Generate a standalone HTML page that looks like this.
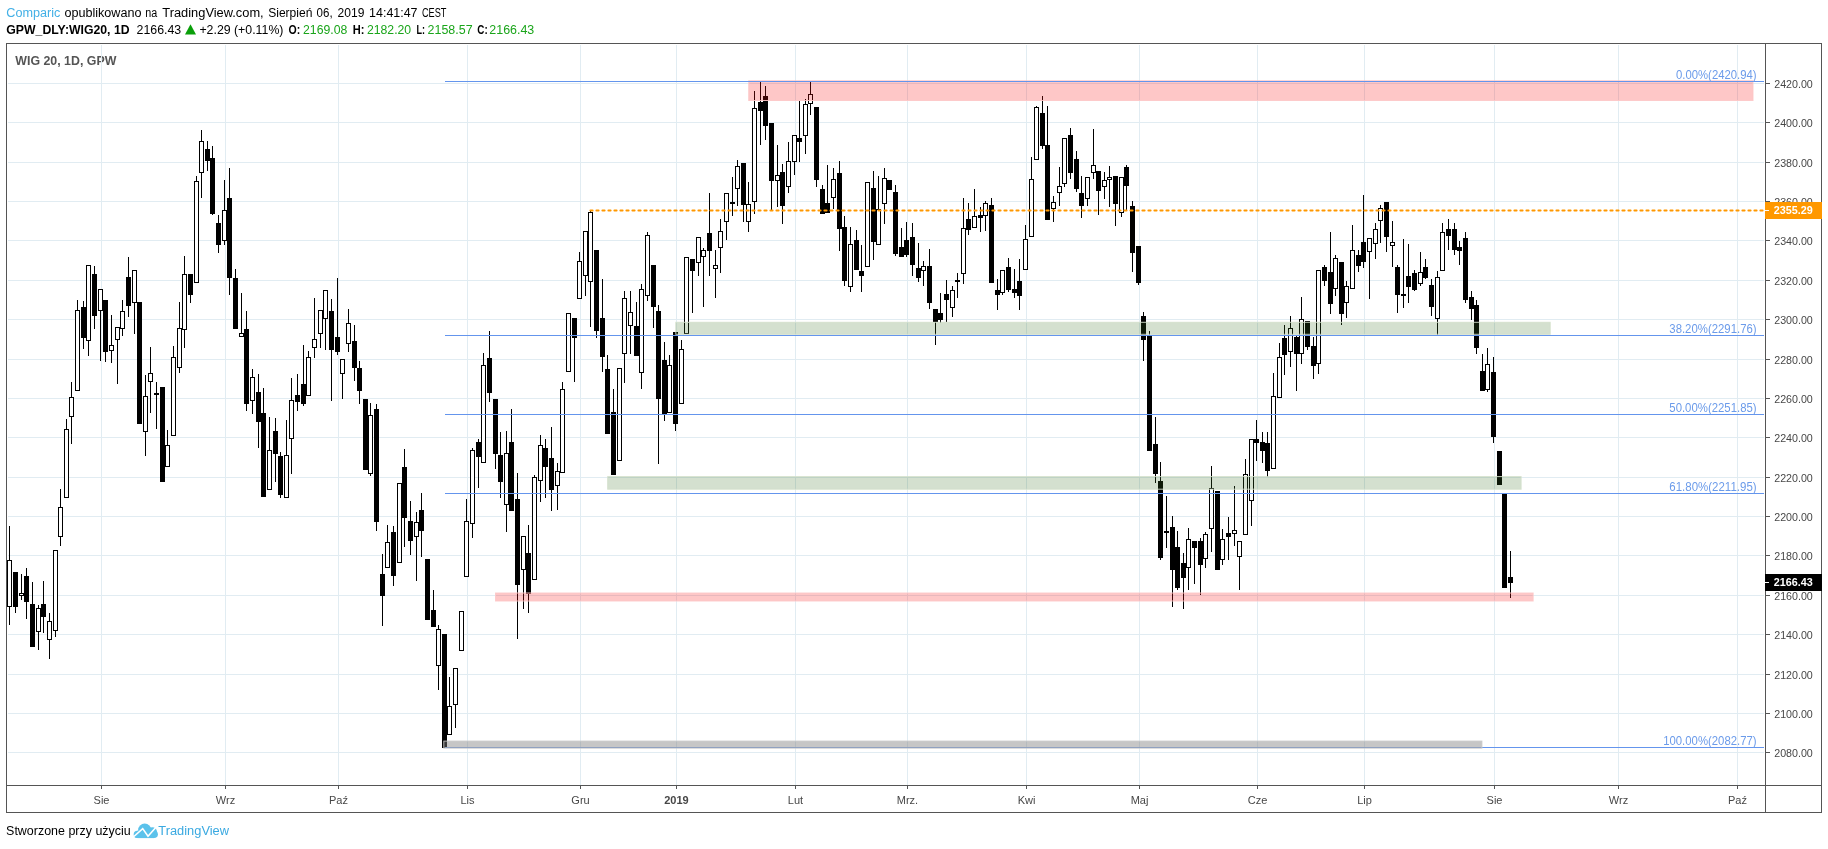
<!DOCTYPE html>
<html lang="pl"><head><meta charset="utf-8"><title>WIG20 chart</title>
<style>html,body{margin:0;padding:0;background:#fff;}body{width:1828px;height:849px;overflow:hidden;position:relative;}svg{position:absolute;left:0;top:0;display:block;will-change:transform;}text{font-family:"Liberation Sans", sans-serif;}.c{shape-rendering:crispEdges;}</style></head><body>
<svg width="1828" height="849" viewBox="0 0 1828 849">
<rect width="1828" height="849" fill="#fff"/>
<text x="15.3" y="64.8" font-size="12" font-weight="bold" fill="#555" textLength="101" lengthAdjust="spacingAndGlyphs">WIG 20, 1D, GPW</text>
<g class="c" fill="#e1ecf2">
<rect x="8" y="83" width="1756" height="1"/>
<rect x="8" y="122" width="1756" height="1"/>
<rect x="8" y="162" width="1756" height="1"/>
<rect x="8" y="201" width="1756" height="1"/>
<rect x="8" y="240" width="1756" height="1"/>
<rect x="8" y="280" width="1756" height="1"/>
<rect x="8" y="319" width="1756" height="1"/>
<rect x="8" y="359" width="1756" height="1"/>
<rect x="8" y="398" width="1756" height="1"/>
<rect x="8" y="437" width="1756" height="1"/>
<rect x="8" y="477" width="1756" height="1"/>
<rect x="8" y="516" width="1756" height="1"/>
<rect x="8" y="555" width="1756" height="1"/>
<rect x="8" y="595" width="1756" height="1"/>
<rect x="8" y="634" width="1756" height="1"/>
<rect x="8" y="674" width="1756" height="1"/>
<rect x="8" y="713" width="1756" height="1"/>
<rect x="8" y="752" width="1756" height="1"/>
<rect x="101" y="45" width="1" height="740"/>
<rect x="225" y="45" width="1" height="740"/>
<rect x="338" y="45" width="1" height="740"/>
<rect x="467" y="45" width="1" height="740"/>
<rect x="580" y="45" width="1" height="740"/>
<rect x="676" y="45" width="1" height="740"/>
<rect x="795" y="45" width="1" height="740"/>
<rect x="907" y="45" width="1" height="740"/>
<rect x="1026" y="45" width="1" height="740"/>
<rect x="1139" y="45" width="1" height="740"/>
<rect x="1257" y="45" width="1" height="740"/>
<rect x="1364" y="45" width="1" height="740"/>
<rect x="1494" y="45" width="1" height="740"/>
<rect x="1618" y="45" width="1" height="740"/>
<rect x="1737" y="45" width="1" height="740"/>
</g>
<g class="c">
<path fill="#000" d="M9,526h1v99h-1zM15,572h1v41h-1zM21,574h1v26h-1zM26,568h1v51h-1zM32,582h1v65h-1zM38,605h1v45h-1zM43,581h1v52h-1zM49,613h1v46h-1zM55,550h1v87h-1zM60,489h1v57h-1zM66,419h1v79h-1zM71,382h1v62h-1zM77,300h1v91h-1zM83,301h1v48h-1zM88,265h1v91h-1zM94,266h1v63h-1zM100,289h1v72h-1zM105,300h1v62h-1zM111,315h1v48h-1zM117,327h1v57h-1zM122,300h1v36h-1zM128,257h1v60h-1zM134,270h1v64h-1zM139,302h1v122h-1zM145,375h1v81h-1zM150,347h1v66h-1zM156,382h1v47h-1zM162,387h1v95h-1zM167,430h1v37h-1zM173,346h1v90h-1zM179,302h1v71h-1zM184,256h1v92h-1zM190,274h1v29h-1zM196,176h1v107h-1zM201,130h1v68h-1zM207,141h1v30h-1zM212,146h1v69h-1zM218,215h1v38h-1zM224,180h1v65h-1zM229,168h1v127h-1zM235,269h1v60h-1zM241,293h1v44h-1zM246,311h1v100h-1zM252,369h1v45h-1zM258,374h1v74h-1zM263,388h1v109h-1zM269,417h1v73h-1zM275,418h1v64h-1zM280,452h1v46h-1zM286,420h1v78h-1zM291,378h1v96h-1zM297,374h1v37h-1zM303,345h1v61h-1zM308,351h1v45h-1zM314,298h1v60h-1zM320,310h1v38h-1zM325,290h1v60h-1zM331,299h1v102h-1zM337,278h1v77h-1zM342,359h1v40h-1zM348,309h1v43h-1zM354,325h1v56h-1zM359,361h1v43h-1zM365,399h1v71h-1zM370,403h1v73h-1zM376,404h1v127h-1zM382,554h1v72h-1zM387,525h1v43h-1zM393,526h1v60h-1zM399,483h1v80h-1zM404,449h1v98h-1zM410,501h1v54h-1zM416,512h1v69h-1zM421,493h1v64h-1zM427,559h1v61h-1zM433,590h1v37h-1zM438,625h1v65h-1zM444,634h1v114h-1zM449,677h1v58h-1zM455,668h1v60h-1zM461,611h1v40h-1zM466,499h1v78h-1zM472,448h1v90h-1zM478,439h1v49h-1zM483,353h1v110h-1zM489,331h1v71h-1zM495,399h1v70h-1zM500,432h1v66h-1zM506,431h1v101h-1zM511,409h1v102h-1zM517,473h1v166h-1zM523,536h1v73h-1zM528,525h1v88h-1zM534,475h1v105h-1zM540,435h1v67h-1zM545,439h1v59h-1zM551,427h1v84h-1zM557,463h1v47h-1zM562,382h1v91h-1zM568,313h1v59h-1zM574,318h1v64h-1zM579,252h1v47h-1zM585,231h1v65h-1zM590,210h1v117h-1zM596,250h1v88h-1zM602,279h1v93h-1zM607,355h1v79h-1zM613,389h1v86h-1zM619,368h1v93h-1zM624,291h1v92h-1zM630,291h1v63h-1zM636,302h1v54h-1zM641,284h1v105h-1zM647,232h1v69h-1zM653,265h1v63h-1zM658,305h1v159h-1zM664,342h1v79h-1zM669,355h1v58h-1zM675,332h1v99h-1zM681,340h1v64h-1zM686,257h1v77h-1zM692,259h1v54h-1zM698,237h1v39h-1zM703,248h1v59h-1zM709,193h1v83h-1zM715,250h1v48h-1zM720,219h1v54h-1zM726,193h1v47h-1zM732,177h1v39h-1zM737,160h1v46h-1zM743,163h1v59h-1zM748,182h1v50h-1zM754,91h1v123h-1zM760,81h1v64h-1zM765,86h1v54h-1zM771,123h1v87h-1zM777,145h1v62h-1zM782,164h1v60h-1zM788,142h1v51h-1zM794,135h1v40h-1zM799,101h1v61h-1zM805,99h1v55h-1zM810,81h1v34h-1zM816,107h1v80h-1zM822,185h1v29h-1zM827,165h1v48h-1zM833,168h1v41h-1zM839,161h1v90h-1zM844,216h1v70h-1zM850,227h1v65h-1zM856,230h1v40h-1zM861,245h1v47h-1zM867,182h1v85h-1zM873,171h1v89h-1zM878,176h1v69h-1zM884,168h1v56h-1zM889,180h1v10h-1zM895,185h1v71h-1zM901,228h1v29h-1zM906,222h1v35h-1zM912,223h1v53h-1zM918,243h1v39h-1zM923,261h1v25h-1zM929,249h1v60h-1zM935,309h1v36h-1zM940,293h1v30h-1zM946,280h1v42h-1zM952,286h1v31h-1zM957,273h1v25h-1zM963,198h1v86h-1zM968,203h1v32h-1zM974,189h1v39h-1zM980,207h1v25h-1zM985,201h1v30h-1zM991,198h1v85h-1zM997,279h1v31h-1zM1002,270h1v25h-1zM1008,258h1v34h-1zM1014,269h1v29h-1zM1019,259h1v51h-1zM1025,225h1v45h-1zM1031,157h1v80h-1zM1036,106h1v54h-1zM1042,96h1v53h-1zM1047,106h1v114h-1zM1053,196h1v26h-1zM1059,167h1v39h-1zM1064,138h1v49h-1zM1070,128h1v51h-1zM1076,151h1v41h-1zM1081,176h1v42h-1zM1087,177h1v29h-1zM1093,129h1v50h-1zM1098,171h1v44h-1zM1104,172h1v27h-1zM1109,166h1v41h-1zM1115,176h1v50h-1zM1121,177h1v40h-1zM1126,165h1v46h-1zM1132,201h1v71h-1zM1138,246h1v39h-1zM1143,312h1v49h-1zM1149,331h1v120h-1zM1155,417h1v66h-1zM1160,462h1v98h-1zM1166,496h1v52h-1zM1172,516h1v91h-1zM1177,531h1v59h-1zM1183,553h1v56h-1zM1188,528h1v62h-1zM1194,541h1v43h-1zM1200,538h1v57h-1zM1205,532h1v36h-1zM1211,466h1v86h-1zM1217,491h1v79h-1zM1222,529h1v36h-1zM1228,517h1v43h-1zM1234,486h1v60h-1zM1239,541h1v49h-1zM1245,459h1v76h-1zM1251,439h1v87h-1zM1256,420h1v41h-1zM1262,432h1v31h-1zM1267,432h1v45h-1zM1273,373h1v96h-1zM1279,343h1v55h-1zM1284,325h1v50h-1zM1290,316h1v51h-1zM1296,335h1v56h-1zM1301,297h1v67h-1zM1307,321h1v29h-1zM1313,337h1v42h-1zM1318,270h1v104h-1zM1324,265h1v21h-1zM1330,232h1v82h-1zM1335,255h1v41h-1zM1341,262h1v63h-1zM1346,281h1v37h-1zM1352,225h1v64h-1zM1358,250h1v22h-1zM1363,195h1v73h-1zM1369,238h1v61h-1zM1375,223h1v36h-1zM1380,205h1v38h-1zM1386,202h1v50h-1zM1392,221h1v46h-1zM1397,265h1v48h-1zM1403,239h1v69h-1zM1408,244h1v59h-1zM1414,270h1v21h-1zM1420,252h1v34h-1zM1425,259h1v20h-1zM1431,279h1v37h-1zM1437,271h1v64h-1zM1442,223h1v48h-1zM1448,219h1v31h-1zM1454,223h1v32h-1zM1459,241h1v24h-1zM1465,232h1v71h-1zM1471,291h1v29h-1zM1476,300h1v54h-1zM1482,354h1v37h-1zM1487,348h1v44h-1zM1493,357h1v86h-1zM1499,451h1v34h-1zM1504,494h1v94h-1zM1510,551h1v47h-1z"/>
<path fill="#000" d="M7,560h5v47h-5zM13,572h5v35h-5zM19,593h5v3h-5zM24,576h5v26h-5zM30,604h5v43h-5zM36,608h5v24h-5zM41,604h5v13h-5zM47,621h5v19h-5zM53,550h5v81h-5zM58,507h5v30h-5zM64,429h5v69h-5zM69,397h5v20h-5zM75,310h5v81h-5zM81,307h5v31h-5zM86,265h5v76h-5zM92,274h5v42h-5zM98,289h5v22h-5zM103,300h5v52h-5zM109,345h5v6h-5zM115,327h5v13h-5zM120,311h5v18h-5zM126,277h5v29h-5zM132,270h5v33h-5zM137,302h5v122h-5zM143,396h5v36h-5zM148,373h5v9h-5zM154,393h5v2h-5zM160,387h5v95h-5zM165,445h5v22h-5zM171,357h5v79h-5zM177,328h5v40h-5zM182,274h5v56h-5zM188,274h5v21h-5zM194,181h5v102h-5zM199,141h5v32h-5zM205,149h5v12h-5zM210,158h5v56h-5zM216,223h5v22h-5zM222,210h5v31h-5zM227,198h5v80h-5zM233,278h5v51h-5zM239,333h5v4h-5zM244,329h5v75h-5zM250,377h5v24h-5zM256,392h5v30h-5zM261,413h5v84h-5zM267,450h5v40h-5zM273,431h5v23h-5zM278,456h5v39h-5zM284,455h5v43h-5zM289,400h5v39h-5zM295,395h5v7h-5zM301,384h5v20h-5zM306,357h5v39h-5zM312,339h5v9h-5zM318,310h5v24h-5zM323,290h5v29h-5zM329,311h5v39h-5zM335,337h5v15h-5zM340,359h5v15h-5zM346,323h5v21h-5zM352,341h5v27h-5zM357,368h5v23h-5zM363,399h5v71h-5zM368,415h5v59h-5zM374,409h5v113h-5zM380,574h5v22h-5zM385,542h5v26h-5zM391,532h5v44h-5zM397,483h5v80h-5zM402,467h5v51h-5zM408,521h5v20h-5zM414,522h5v15h-5zM419,510h5v21h-5zM425,559h5v61h-5zM431,610h5v17h-5zM436,629h5v37h-5zM442,634h5v114h-5zM447,706h5v29h-5zM453,668h5v37h-5zM459,611h5v40h-5zM464,521h5v56h-5zM470,450h5v74h-5zM476,442h5v15h-5zM481,365h5v98h-5zM487,358h5v35h-5zM493,399h5v55h-5zM498,455h5v27h-5zM504,453h5v52h-5zM509,442h5v69h-5zM515,499h5v86h-5zM521,536h5v34h-5zM526,553h5v41h-5zM532,477h5v103h-5zM538,445h5v36h-5zM543,448h5v19h-5zM549,458h5v32h-5zM555,471h5v15h-5zM560,389h5v84h-5zM566,313h5v59h-5zM572,318h5v20h-5zM577,261h5v38h-5zM583,231h5v45h-5zM588,212h5v70h-5zM594,250h5v81h-5zM600,318h5v39h-5zM605,369h5v65h-5zM611,412h5v63h-5zM617,368h5v93h-5zM622,298h5v56h-5zM628,312h5v14h-5zM634,326h5v30h-5zM639,289h5v84h-5zM645,235h5v61h-5zM651,265h5v42h-5zM656,311h5v88h-5zM662,360h5v55h-5zM667,365h5v48h-5zM673,332h5v92h-5zM679,349h5v55h-5zM684,257h5v77h-5zM690,259h5v12h-5zM696,237h5v26h-5zM701,250h5v7h-5zM707,233h5v18h-5zM713,265h5v4h-5zM718,231h5v17h-5zM724,193h5v29h-5zM730,202h5v2h-5zM735,166h5v23h-5zM741,163h5v42h-5zM746,204h5v18h-5zM752,108h5v94h-5zM758,102h5v9h-5zM763,96h5v30h-5zM769,123h5v58h-5zM775,175h5v6h-5zM780,172h5v34h-5zM786,161h5v26h-5zM792,135h5v27h-5zM797,138h5v4h-5zM803,104h5v32h-5zM808,94h5v10h-5zM814,107h5v73h-5zM820,189h5v25h-5zM825,203h5v10h-5zM831,179h5v19h-5zM837,173h5v56h-5zM842,227h5v54h-5zM848,244h5v43h-5zM854,240h5v30h-5zM859,271h5v5h-5zM865,182h5v85h-5zM871,188h5v54h-5zM876,209h5v36h-5zM882,178h5v26h-5zM887,180h5v10h-5zM893,192h5v62h-5zM899,247h5v10h-5zM904,240h5v15h-5zM910,237h5v28h-5zM916,268h5v10h-5zM921,266h5v5h-5zM927,266h5v37h-5zM933,309h5v13h-5zM938,313h5v7h-5zM944,294h5v6h-5zM950,290h5v18h-5zM955,280h5v2h-5zM961,228h5v46h-5zM966,219h5v11h-5zM972,216h5v12h-5zM978,215h5v3h-5zM983,203h5v13h-5zM989,205h5v78h-5zM995,290h5v5h-5zM1000,270h5v23h-5zM1006,267h5v23h-5zM1012,289h5v4h-5zM1017,281h5v15h-5zM1023,239h5v31h-5zM1029,179h5v58h-5zM1034,107h5v53h-5zM1040,113h5v33h-5zM1045,145h5v75h-5zM1051,202h5v7h-5zM1057,186h5v7h-5zM1062,138h5v46h-5zM1068,135h5v38h-5zM1074,159h5v30h-5zM1079,193h5v13h-5zM1085,177h5v22h-5zM1091,165h5v8h-5zM1096,171h5v20h-5zM1102,180h5v7h-5zM1107,177h5v3h-5zM1113,176h5v28h-5zM1119,177h5v36h-5zM1124,167h5v19h-5zM1130,206h5v47h-5zM1136,246h5v37h-5zM1141,316h5v24h-5zM1147,336h5v115h-5zM1153,444h5v30h-5zM1158,481h5v77h-5zM1164,531h5v2h-5zM1170,527h5v43h-5zM1175,547h5v41h-5zM1181,563h5v15h-5zM1186,539h5v29h-5zM1192,541h5v7h-5zM1198,541h5v24h-5zM1203,534h5v25h-5zM1209,488h5v41h-5zM1215,491h5v79h-5zM1220,539h5v21h-5zM1226,533h5v4h-5zM1232,530h5v4h-5zM1237,541h5v16h-5zM1243,474h5v61h-5zM1249,439h5v62h-5zM1254,439h5v4h-5zM1260,442h5v9h-5zM1265,443h5v28h-5zM1271,396h5v73h-5zM1277,357h5v41h-5zM1282,338h5v17h-5zM1288,328h5v24h-5zM1294,337h5v17h-5zM1299,319h5v35h-5zM1305,321h5v26h-5zM1311,346h5v20h-5zM1316,270h5v94h-5zM1322,267h5v14h-5zM1328,272h5v32h-5zM1333,258h5v31h-5zM1339,262h5v52h-5zM1344,286h5v17h-5zM1350,250h5v39h-5zM1356,255h5v11h-5zM1361,242h5v20h-5zM1367,238h5v14h-5zM1373,229h5v15h-5zM1378,208h5v13h-5zM1384,202h5v35h-5zM1390,242h5v4h-5zM1395,267h5v28h-5zM1401,294h5v2h-5zM1406,276h5v11h-5zM1412,273h5v17h-5zM1418,272h5v12h-5zM1423,267h5v11h-5zM1429,285h5v22h-5zM1435,277h5v42h-5zM1440,232h5v39h-5zM1446,229h5v7h-5zM1452,229h5v21h-5zM1457,247h5v4h-5zM1463,238h5v62h-5zM1469,297h5v12h-5zM1474,305h5v43h-5zM1480,371h5v20h-5zM1485,364h5v26h-5zM1491,372h5v65h-5zM1497,451h5v34h-5zM1502,494h5v94h-5zM1508,577h5v6h-5z"/>
<path fill="#fff" d="M8,561h3v45h-3zM20,594h3v1h-3zM37,609h3v22h-3zM48,622h3v17h-3zM54,551h3v79h-3zM59,508h3v28h-3zM65,430h3v67h-3zM70,398h3v18h-3zM76,311h3v79h-3zM87,266h3v74h-3zM99,290h3v20h-3zM110,346h3v4h-3zM116,328h3v11h-3zM121,312h3v16h-3zM133,271h3v31h-3zM144,397h3v34h-3zM149,374h3v7h-3zM166,446h3v20h-3zM172,358h3v77h-3zM178,329h3v38h-3zM183,275h3v54h-3zM195,182h3v100h-3zM200,142h3v30h-3zM223,211h3v29h-3zM240,334h3v2h-3zM251,378h3v22h-3zM268,451h3v38h-3zM285,456h3v41h-3zM290,401h3v37h-3zM307,358h3v37h-3zM313,340h3v7h-3zM319,311h3v22h-3zM324,291h3v27h-3zM341,360h3v13h-3zM347,324h3v19h-3zM369,416h3v57h-3zM386,543h3v24h-3zM398,484h3v78h-3zM415,523h3v13h-3zM437,630h3v35h-3zM448,707h3v27h-3zM454,669h3v35h-3zM460,612h3v38h-3zM465,522h3v54h-3zM471,451h3v72h-3zM482,366h3v96h-3zM505,454h3v50h-3zM522,537h3v32h-3zM533,478h3v101h-3zM539,446h3v34h-3zM556,472h3v13h-3zM561,390h3v82h-3zM567,314h3v57h-3zM578,262h3v36h-3zM584,232h3v43h-3zM589,213h3v68h-3zM618,369h3v91h-3zM623,299h3v54h-3zM629,313h3v12h-3zM640,290h3v82h-3zM646,236h3v59h-3zM668,366h3v46h-3zM680,350h3v53h-3zM685,258h3v75h-3zM697,238h3v24h-3zM702,251h3v5h-3zM714,266h3v2h-3zM719,232h3v15h-3zM725,194h3v27h-3zM736,167h3v21h-3zM747,205h3v16h-3zM753,109h3v92h-3zM776,176h3v4h-3zM787,162h3v24h-3zM793,136h3v25h-3zM804,105h3v30h-3zM809,95h3v8h-3zM832,180h3v17h-3zM849,245h3v41h-3zM866,183h3v83h-3zM877,210h3v34h-3zM883,179h3v24h-3zM922,267h3v3h-3zM951,291h3v16h-3zM962,229h3v44h-3zM973,217h3v10h-3zM984,204h3v11h-3zM1001,271h3v21h-3zM1024,240h3v29h-3zM1030,180h3v56h-3zM1035,108h3v51h-3zM1052,203h3v5h-3zM1058,187h3v5h-3zM1063,139h3v44h-3zM1086,178h3v20h-3zM1092,166h3v6h-3zM1103,181h3v5h-3zM1108,178h3v1h-3zM1120,178h3v34h-3zM1187,540h3v27h-3zM1204,535h3v23h-3zM1210,489h3v39h-3zM1221,540h3v19h-3zM1233,531h3v2h-3zM1238,542h3v14h-3zM1244,475h3v59h-3zM1250,440h3v60h-3zM1272,397h3v71h-3zM1278,358h3v39h-3zM1289,329h3v22h-3zM1300,320h3v33h-3zM1317,271h3v92h-3zM1334,259h3v29h-3zM1345,287h3v15h-3zM1351,251h3v37h-3zM1368,239h3v12h-3zM1374,230h3v13h-3zM1379,209h3v11h-3zM1391,243h3v2h-3zM1419,273h3v10h-3zM1436,278h3v40h-3zM1441,233h3v37h-3zM1486,365h3v24h-3z"/>
</g>
<g class="c">
</g><g>
<rect x="748.75" y="80.80" width="1004.25" height="19.70" fill="rgba(250,20,20,0.24)" stroke="#fdc6c6" stroke-opacity="0.9" stroke-width="1"/>
<rect x="675.80" y="322.30" width="874.40" height="12.00" fill="rgba(59,114,36,0.22)" stroke="#d4e0cb" stroke-opacity="0.9" stroke-width="1"/>
<rect x="607.70" y="476.60" width="913.40" height="12.60" fill="rgba(59,114,36,0.22)" stroke="#d4e0cb" stroke-opacity="0.9" stroke-width="1"/>
<rect x="495.55" y="593.00" width="1037.55" height="8.00" fill="rgba(250,20,20,0.24)" stroke="#fdc6c6" stroke-opacity="0.9" stroke-width="1"/>
</g><g class="c">
<rect x="445" y="81" width="1319" height="1" fill="#6495ed"/>
<rect x="445" y="335" width="1319" height="1" fill="#6495ed"/>
<rect x="445" y="414" width="1319" height="1" fill="#6495ed"/>
<rect x="445" y="493" width="1319" height="1" fill="#6495ed"/>
<rect x="445" y="747" width="1319" height="1" fill="#6495ed"/>
</g>
<rect x="443.80" y="741.10" width="1038.10" height="7.00" fill="rgba(128,128,128,0.45)" stroke="#c6c6c6" stroke-opacity="0.9" stroke-width="1"/>
<line x1="590.4" y1="210.5" x2="1764" y2="210.5" stroke="#ff9800" stroke-width="2" stroke-dasharray="2.2 3.8" stroke-linecap="round"/>
<text x="1676.0" y="79.1" font-size="12.8" fill="#6b9bea" textLength="80.6" lengthAdjust="spacingAndGlyphs">0.00%(2420.94)</text>
<text x="1669.3" y="333.1" font-size="12.8" fill="#6b9bea" textLength="87.3" lengthAdjust="spacingAndGlyphs">38.20%(2291.76)</text>
<text x="1669.3" y="412.1" font-size="12.8" fill="#6b9bea" textLength="87.3" lengthAdjust="spacingAndGlyphs">50.00%(2251.85)</text>
<text x="1669.3" y="491.1" font-size="12.8" fill="#6b9bea" textLength="87.3" lengthAdjust="spacingAndGlyphs">61.80%(2211.95)</text>
<text x="1663.2" y="745.1" font-size="12.8" fill="#6b9bea" textLength="93.4" lengthAdjust="spacingAndGlyphs">100.00%(2082.77)</text>
<g class="c" fill="#555555">
<rect x="6" y="43" width="1816" height="1"/>
<rect x="6" y="812" width="1816" height="1"/>
<rect x="6" y="43" width="1" height="770"/>
<rect x="1821" y="43" width="1" height="770"/>
<rect x="1765" y="43" width="1" height="770"/>
<rect x="6" y="785" width="1816" height="1"/>
<rect x="1766" y="83" width="4" height="1"/>
<rect x="1766" y="122" width="4" height="1"/>
<rect x="1766" y="162" width="4" height="1"/>
<rect x="1766" y="201" width="4" height="1"/>
<rect x="1766" y="240" width="4" height="1"/>
<rect x="1766" y="280" width="4" height="1"/>
<rect x="1766" y="319" width="4" height="1"/>
<rect x="1766" y="359" width="4" height="1"/>
<rect x="1766" y="398" width="4" height="1"/>
<rect x="1766" y="437" width="4" height="1"/>
<rect x="1766" y="477" width="4" height="1"/>
<rect x="1766" y="516" width="4" height="1"/>
<rect x="1766" y="555" width="4" height="1"/>
<rect x="1766" y="595" width="4" height="1"/>
<rect x="1766" y="634" width="4" height="1"/>
<rect x="1766" y="674" width="4" height="1"/>
<rect x="1766" y="713" width="4" height="1"/>
<rect x="1766" y="752" width="4" height="1"/>
<rect x="101" y="786" width="1" height="3"/>
<rect x="225" y="786" width="1" height="3"/>
<rect x="338" y="786" width="1" height="3"/>
<rect x="467" y="786" width="1" height="3"/>
<rect x="580" y="786" width="1" height="3"/>
<rect x="676" y="786" width="1" height="3"/>
<rect x="795" y="786" width="1" height="3"/>
<rect x="907" y="786" width="1" height="3"/>
<rect x="1026" y="786" width="1" height="3"/>
<rect x="1139" y="786" width="1" height="3"/>
<rect x="1257" y="786" width="1" height="3"/>
<rect x="1364" y="786" width="1" height="3"/>
<rect x="1494" y="786" width="1" height="3"/>
<rect x="1618" y="786" width="1" height="3"/>
<rect x="1737" y="786" width="1" height="3"/>
</g>
<text x="1774.2" y="87.8" font-size="11.5" fill="#474747" textLength="38.6" lengthAdjust="spacingAndGlyphs">2420.00</text>
<text x="1774.2" y="126.8" font-size="11.5" fill="#474747" textLength="38.6" lengthAdjust="spacingAndGlyphs">2400.00</text>
<text x="1774.2" y="166.8" font-size="11.5" fill="#474747" textLength="38.6" lengthAdjust="spacingAndGlyphs">2380.00</text>
<text x="1774.2" y="205.8" font-size="11.5" fill="#474747" textLength="38.6" lengthAdjust="spacingAndGlyphs">2360.00</text>
<text x="1774.2" y="244.8" font-size="11.5" fill="#474747" textLength="38.6" lengthAdjust="spacingAndGlyphs">2340.00</text>
<text x="1774.2" y="284.8" font-size="11.5" fill="#474747" textLength="38.6" lengthAdjust="spacingAndGlyphs">2320.00</text>
<text x="1774.2" y="323.8" font-size="11.5" fill="#474747" textLength="38.6" lengthAdjust="spacingAndGlyphs">2300.00</text>
<text x="1774.2" y="363.8" font-size="11.5" fill="#474747" textLength="38.6" lengthAdjust="spacingAndGlyphs">2280.00</text>
<text x="1774.2" y="402.8" font-size="11.5" fill="#474747" textLength="38.6" lengthAdjust="spacingAndGlyphs">2260.00</text>
<text x="1774.2" y="441.8" font-size="11.5" fill="#474747" textLength="38.6" lengthAdjust="spacingAndGlyphs">2240.00</text>
<text x="1774.2" y="481.8" font-size="11.5" fill="#474747" textLength="38.6" lengthAdjust="spacingAndGlyphs">2220.00</text>
<text x="1774.2" y="520.8" font-size="11.5" fill="#474747" textLength="38.6" lengthAdjust="spacingAndGlyphs">2200.00</text>
<text x="1774.2" y="559.8" font-size="11.5" fill="#474747" textLength="38.6" lengthAdjust="spacingAndGlyphs">2180.00</text>
<text x="1774.2" y="599.8" font-size="11.5" fill="#474747" textLength="38.6" lengthAdjust="spacingAndGlyphs">2160.00</text>
<text x="1774.2" y="638.8" font-size="11.5" fill="#474747" textLength="38.6" lengthAdjust="spacingAndGlyphs">2140.00</text>
<text x="1774.2" y="678.8" font-size="11.5" fill="#474747" textLength="38.6" lengthAdjust="spacingAndGlyphs">2120.00</text>
<text x="1774.2" y="717.8" font-size="11.5" fill="#474747" textLength="38.6" lengthAdjust="spacingAndGlyphs">2100.00</text>
<text x="1774.2" y="756.8" font-size="11.5" fill="#474747" textLength="38.6" lengthAdjust="spacingAndGlyphs">2080.00</text>
<text x="101.5" y="804" font-size="11" fill="#474747" text-anchor="middle">Sie</text>
<text x="225.5" y="804" font-size="11" fill="#474747" text-anchor="middle">Wrz</text>
<text x="338.5" y="804" font-size="11" fill="#474747" text-anchor="middle">Paź</text>
<text x="467.5" y="804" font-size="11" fill="#474747" text-anchor="middle">Lis</text>
<text x="580.5" y="804" font-size="11" fill="#474747" text-anchor="middle">Gru</text>
<text x="676.5" y="804" font-size="11" font-weight="bold" fill="#474747" text-anchor="middle">2019</text>
<text x="795.5" y="804" font-size="11" fill="#474747" text-anchor="middle">Lut</text>
<text x="907.5" y="804" font-size="11" fill="#474747" text-anchor="middle">Mrz.</text>
<text x="1026.5" y="804" font-size="11" fill="#474747" text-anchor="middle">Kwi</text>
<text x="1139.5" y="804" font-size="11" fill="#474747" text-anchor="middle">Maj</text>
<text x="1257.5" y="804" font-size="11" fill="#474747" text-anchor="middle">Cze</text>
<text x="1364.5" y="804" font-size="11" fill="#474747" text-anchor="middle">Lip</text>
<text x="1494.5" y="804" font-size="11" fill="#474747" text-anchor="middle">Sie</text>
<text x="1618.5" y="804" font-size="11" fill="#474747" text-anchor="middle">Wrz</text>
<text x="1737.5" y="804" font-size="11" fill="#474747" text-anchor="middle">Paź</text>
<g class="c">
<rect x="1765" y="202" width="57" height="17" fill="#ff9800"/>
<rect x="1765" y="210" width="4" height="1" fill="#fff"/>
<rect x="1765" y="574" width="57" height="17" fill="#000"/>
<rect x="1765" y="582" width="4" height="1" fill="#fff"/>
</g>
<text x="1773.7" y="213.8" font-size="11.5" font-weight="bold" fill="#fff" textLength="39" lengthAdjust="spacingAndGlyphs">2355.29</text>
<text x="1773.7" y="585.8" font-size="11.5" font-weight="bold" fill="#fff" textLength="39" lengthAdjust="spacingAndGlyphs">2166.43</text>
<text x="6.3" y="17.0" font-size="12" fill="#43b0e6" textLength="54.1" lengthAdjust="spacingAndGlyphs">Comparic</text>
<text x="64.4" y="17.0" font-size="12" fill="#000" textLength="77.1" lengthAdjust="spacingAndGlyphs">opublikowano</text>
<text x="145.3" y="17.0" font-size="12" fill="#000" textLength="12.0" lengthAdjust="spacingAndGlyphs">na</text>
<text x="162.3" y="17.0" font-size="12" fill="#000" textLength="101.4" lengthAdjust="spacingAndGlyphs">TradingView.com,</text>
<text x="268.2" y="17.0" font-size="12" fill="#000" textLength="44.2" lengthAdjust="spacingAndGlyphs">Sierpień</text>
<text x="316.6" y="17.0" font-size="12" fill="#000" textLength="16.0" lengthAdjust="spacingAndGlyphs">06,</text>
<text x="337.6" y="17.0" font-size="12" fill="#000" textLength="26.8" lengthAdjust="spacingAndGlyphs">2019</text>
<text x="369.1" y="17.0" font-size="12" fill="#000" textLength="48.4" lengthAdjust="spacingAndGlyphs">14:41:47</text>
<text x="421.9" y="17.0" font-size="12" fill="#000" textLength="24.5" lengthAdjust="spacingAndGlyphs">CEST</text>
<text x="6.3" y="34.2" font-size="12" font-weight="bold" fill="#000" textLength="123.3" lengthAdjust="spacingAndGlyphs">GPW_DLY:WIG20, 1D</text>
<text x="136.5" y="34.2" font-size="12" fill="#000" textLength="44.7" lengthAdjust="spacingAndGlyphs">2166.43</text>
<path d="M185,34.6L190.5,24.2L196,34.6z" fill="#0a9f0a"/>
<text x="199.4" y="34.2" font-size="12" fill="#000" textLength="84.1" lengthAdjust="spacingAndGlyphs">+2.29 (+0.11%)</text>
<text x="288.5" y="34.2" font-size="12" font-weight="bold" fill="#000" textLength="11.7" lengthAdjust="spacingAndGlyphs">O:</text>
<text x="303.0" y="34.2" font-size="12" fill="#1aa51a" textLength="44.3" lengthAdjust="spacingAndGlyphs">2169.08</text>
<text x="352.7" y="34.2" font-size="12" font-weight="bold" fill="#000" textLength="11.7" lengthAdjust="spacingAndGlyphs">H:</text>
<text x="366.9" y="34.2" font-size="12" fill="#1aa51a" textLength="44.3" lengthAdjust="spacingAndGlyphs">2182.20</text>
<text x="416.5" y="34.2" font-size="12" font-weight="bold" fill="#000" textLength="8.5" lengthAdjust="spacingAndGlyphs">L:</text>
<text x="427.6" y="34.2" font-size="12" fill="#1aa51a" textLength="45.0" lengthAdjust="spacingAndGlyphs">2158.57</text>
<text x="477.3" y="34.2" font-size="12" font-weight="bold" fill="#000" textLength="10.4" lengthAdjust="spacingAndGlyphs">C:</text>
<text x="489.3" y="34.2" font-size="12" fill="#1aa51a" textLength="45.0" lengthAdjust="spacingAndGlyphs">2166.43</text>
<text x="6.1" y="835.1" font-size="12" fill="#000" textLength="124.6" lengthAdjust="spacingAndGlyphs">Stworzone przy użyciu</text>
<g transform="translate(133.7,823.7)"><g fill="#5bc2eb"><circle cx="3.7" cy="10.7" r="3.7"/><circle cx="11" cy="6.4" r="6.6"/><circle cx="18.6" cy="8.2" r="4.7"/><circle cx="20.4" cy="10.6" r="3.8"/><rect x="3.7" y="7" width="16.7" height="7.4"/></g><path d="M0.2,12.8 L9.0,4.9 L14.3,12.5 L22.5,3.3" fill="none" stroke="#fff" stroke-width="1.6" stroke-linejoin="miter"/></g>
<text x="158.3" y="835.0" font-size="12.5" fill="#3aa9e1" textLength="70.7" lengthAdjust="spacingAndGlyphs">TradingView</text>
</svg></body></html>
